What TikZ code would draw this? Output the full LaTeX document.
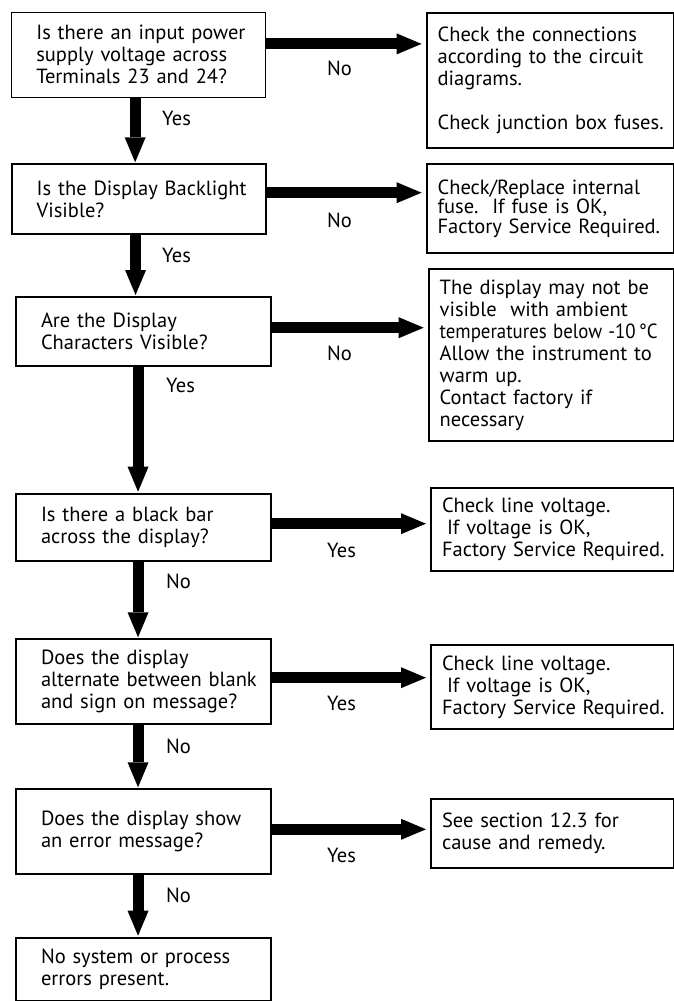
\documentclass[tikz,border=0pt]{standalone}
\usepackage{graphicx}
\usepackage{fontspec}
\setmainfont{PT Sans}
\usetikzlibrary{arrows.meta}

\begin{document}
\begin{tikzpicture}[x=1bp, y=-1bp,
        every node/.style={font=\fontsize{20.5bp}{22bp}\selectfont},
        qbox/.style={draw, line width=2bp, anchor=north west, inner xsep=4bp, inner ysep=0pt,
            text width=246.5bp, align=left,
            execute at begin node={\leftskip=21bp\rightskip=0pt plus 1fil minus 40bp}},
        abox/.style={draw, line width=2bp, anchor=north west, inner xsep=4bp, inner ysep=0pt,
            align=left,
            execute at begin node={\leftskip=7bp\rightskip=0pt plus 1fil minus 40bp}},
        flow/.style={line width=11bp, -{Triangle[length=25bp, width=21bp, line width=0pt]}},
        across/.style={flow, shorten >=4bp},
        downflow/.style={flow, shorten >=1bp},
        lbl/.style={anchor=west, inner sep=0pt}]
            \useasboundingbox (0,0) rectangle (674,1001);
            \node[qbox, line width=1.2bp, minimum height=85bp] (q1) at (10.7,11.7)
                {Is there an input power\\supply voltage across\\Terminals 23 and 24?};
            \node[qbox, minimum height=69.7bp] (q2) at (10.7,163.3)
                {Is the Display Backlight\\Visible?};
            \node[qbox, minimum height=69bp] (q3) at (15,296)
                {Are the Display\\Characters Visible?};
            \node[qbox, minimum height=67.3bp] (q4) at (15,492.7)
                {Is there a black bar\\across the display?};
            \node[qbox, minimum height=85bp] (q5) at (15,638.3)
                {Does the display\\alternate between blank\\and sign on message?};
            \node[qbox, minimum height=85bp] (q6) at (15,788.3)
                {Does the display show\\an error message?};
            \node[qbox, minimum height=62.8bp] (q7) at (15,936.7)
                {No system or process\\errors present.};
            \node[abox, text width=239.4bp, minimum height=135bp] (a1) at (425.6,11.7)
                {Check the connections\\according to the circuit\\diagrams.\\[22bp]Check junction box fuses.};
            \node[abox, text width=239.4bp, minimum height=88.4bp,
                font=\fontsize{20.5bp}{19.5bp}\selectfont] (a2) at (425.6,163.3)
                {Check/Replace internal\\fuse.\ \ If fuse is OK,\\Factory Service Required.};
            \node[abox, text width=237.3bp, minimum height=171.7bp] (a3) at (427.7,268.3)
                {The display may not be\\visible \ with ambient\\\scalebox{0.92}[1]{temperatures below -10\,°C}\\Allow the instrument to\\warm up.\\Contact factory if\\necessary};
            \node[abox, text width=235bp, minimum height=83.3bp] (a4) at (430,486.7)
                {Check line voltage.\\\hspace*{5bp}If voltage is OK,\\Factory Service Required.};
            \node[abox, text width=235bp, minimum height=84.3bp] (a5) at (430,644)
                {Check line voltage.\\\hspace*{5bp}If voltage is OK,\\Factory Service Required.};
            \node[abox, text width=235bp, minimum height=68.4bp] (a6) at (430,798.3)
                {See section 12.3 for\\cause and remedy.};
            \draw[across] ([yshift=-32.2bp]q1.north east) -- ([yshift=-32.2bp]q1.north east -| a1.west);
            \draw[across] ([yshift=-29.4bp]q2.north east) -- ([yshift=-29.4bp]q2.north east -| a2.west);
            \draw[across] ([yshift=-31.7bp]q3.north east) -- ([yshift=-31.7bp]q3.north east -| a3.west);
            \draw[across] ([yshift=-31bp]q4.north east) -- ([yshift=-31bp]q4.north east -| a4.west);
            \draw[across] ([yshift=-39.4bp]q5.north east) -- ([yshift=-39.4bp]q5.north east -| a5.west);
            \draw[across] ([yshift=-41bp]q6.north east) -- ([yshift=-41bp]q6.north east -| a6.west);
            \draw[downflow] ([xshift=-3.4bp]q1.south) -- ([xshift=-3.4bp]q1.south |- q2.north);
            \draw[downflow] ([xshift=-3.4bp]q2.south) -- ([xshift=-3.4bp]q2.south |- q3.north);
            \draw[downflow] ([xshift=-5.2bp]q3.south) -- ([xshift=-5.2bp]q3.south |- q4.north);
            \draw[downflow] ([xshift=-5.2bp]q4.south) -- ([xshift=-5.2bp]q4.south |- q5.north);
            \draw[downflow] ([xshift=-5.2bp]q5.south) -- ([xshift=-5.2bp]q5.south |- q6.north);
            \draw[downflow] ([xshift=-5.2bp]q6.south) -- ([xshift=-5.2bp]q6.south |- q7.north);
            \node[lbl] (no1) at (327,68.3) {No};
            \node[lbl] (no2) at (327,220) {No};
            \node[lbl] (no3) at (327,353.3) {No};
            \node[lbl] (yes4) at (327,550) {Yes};
            \node[lbl] (yes5) at (327,703.3) {Yes};
            \node[lbl] (yes6) at (327,855) {Yes};
            \node[lbl] (yes1) at (162,118.3) {Yes};
            \node[lbl] (yes2) at (162,255) {Yes};
            \node[lbl] (yes3) at (166,385) {Yes};
            \node[lbl] (no4) at (166,581.7) {No};
            \node[lbl] (no5) at (166,746.7) {No};
            \node[lbl] (no6) at (166,895) {No};
\end{tikzpicture}
\end{document}
